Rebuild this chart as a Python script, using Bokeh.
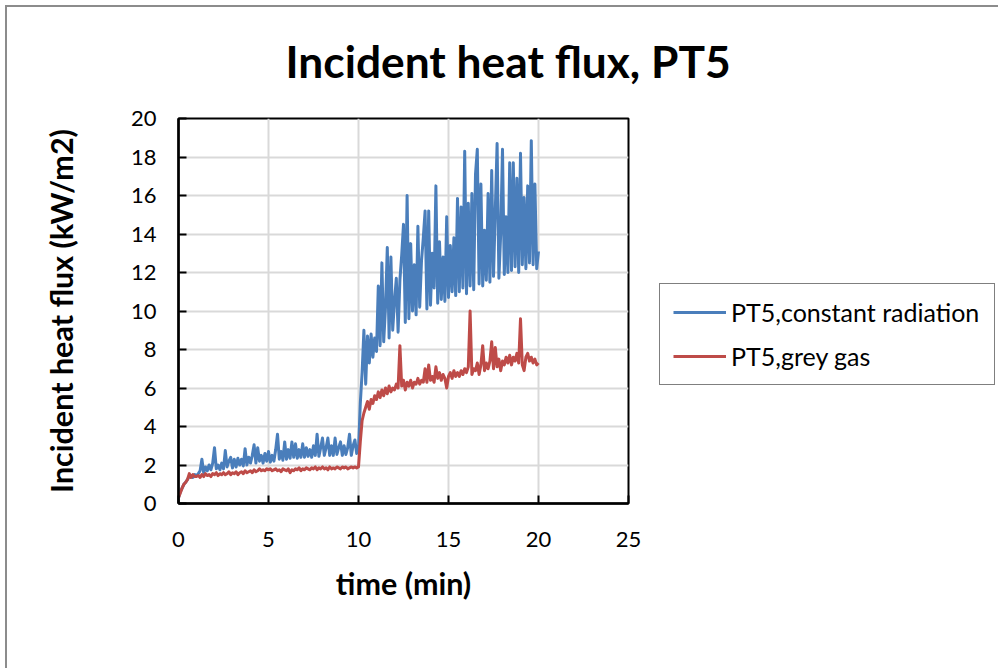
from bokeh.plotting import figure
from bokeh.models import Range1d, Legend, LegendItem, FixedTicker
from bokeh.embed import file_html
from bokeh.resources import INLINE

# ---- data ----
time_min = [round(i * 0.1, 1) for i in range(201)]

constant_radiation = [
    0.3, 0.6, 0.8, 1.0, 1.1, 1.25, 1.4, 1.45, 1.35, 1.5,
    1.45, 1.55, 1.7, 2.3, 1.6, 1.9, 1.7, 2.0, 1.75, 2.1,
    2.9, 1.8, 2.0, 1.75, 2.1, 1.8, 2.75, 1.9, 2.2, 2.4,
    1.85, 2.3, 1.9, 2.35, 2.0, 2.3, 1.95, 2.85, 2.0, 2.4,
    2.1, 2.5, 3.05, 2.1, 2.9, 2.2, 2.5, 2.1, 2.6, 2.2,
    2.7, 2.15, 2.5, 2.2, 2.8, 3.6, 2.3, 2.7, 2.25, 3.2,
    2.3, 2.8, 2.35, 3.2, 2.4, 3.1, 2.35, 2.8, 2.4, 3.1,
    2.4, 2.9, 2.45, 2.8, 2.4, 3.0, 2.5, 3.6, 2.45, 2.9,
    3.4, 2.5, 2.9, 3.4, 2.5, 3.0, 2.5, 3.4, 2.55, 2.9,
    3.2, 2.5, 3.0, 2.55, 2.9, 3.6, 2.5, 3.0, 3.3, 2.6,
    2.8, 5.2, 6.8, 9.0, 6.2, 8.7, 7.3, 8.8, 7.6, 8.6,
    7.9, 11.3, 8.2, 12.5, 8.4, 10.2, 13.3, 8.6, 12.8, 9.0,
    10.5, 11.7, 8.9, 11.6, 12.9, 14.5, 9.4, 16.0, 9.6, 13.5,
    10.0, 12.4, 9.8, 14.4, 10.2, 12.6, 13.8, 15.2, 10.1, 15.2,
    10.3, 13.0, 11.2, 16.5, 10.4, 13.6, 10.6, 12.8, 10.5, 14.9,
    10.7, 13.4, 11.0, 13.8, 10.8, 15.85, 11.0, 15.4, 11.2, 18.3,
    10.9, 15.6, 11.3, 16.1, 11.1, 17.1, 18.4, 11.4, 16.6, 11.3,
    14.2, 11.6, 16.1, 11.5, 17.3, 11.8, 15.2, 18.7, 11.7, 14.0,
    18.4, 11.9, 14.9, 12.0, 17.7, 12.1, 17.7, 12.3, 16.9, 12.0,
    18.2, 12.4, 15.9, 12.2, 16.5, 12.5, 18.85, 12.4, 16.6, 12.2,
    13.1,
]

grey_gas = [
    0.3, 0.55, 0.8, 1.0, 1.1, 1.25, 1.55, 1.35, 1.5, 1.4,
    1.4, 1.45, 1.35, 1.5, 1.4, 1.55, 1.45, 1.5, 1.4, 1.55,
    1.5, 1.6, 1.45, 1.55, 1.5, 1.6, 1.5, 1.55, 1.65, 1.5,
    1.6, 1.55, 1.65, 1.5, 1.6, 1.65, 1.55, 1.7, 1.6, 1.65,
    1.7, 1.6, 1.75, 1.65, 1.7, 1.8, 1.7, 1.75, 1.7, 1.8,
    1.75, 1.8, 1.7, 1.75, 1.8, 1.7, 1.75, 1.65, 1.8, 1.75,
    1.7, 1.8, 1.6, 1.75, 1.7, 1.8, 1.75, 1.85, 1.7, 1.8,
    1.75, 1.85, 1.8, 1.75, 1.85, 1.8, 1.9, 1.75, 1.85, 1.8,
    1.9, 1.8, 1.85, 1.75, 1.9, 1.8, 1.85, 1.8, 1.9, 1.85,
    1.8, 1.9, 1.85, 1.9, 1.8, 1.85, 1.9, 1.85, 1.9, 1.85,
    1.9, 3.2, 4.3, 4.7, 5.0, 5.3, 4.9, 5.4, 5.2, 5.6,
    5.4, 5.8, 5.5, 5.9, 5.6, 6.0, 5.7, 6.1, 5.8, 6.0,
    5.9, 6.2, 6.0, 8.2, 6.1, 6.4, 5.9, 6.3, 6.1, 6.4,
    6.0, 6.3, 6.2, 6.5, 6.2, 6.4, 6.3, 7.0, 6.3, 7.2,
    6.4, 6.6, 6.3, 7.1, 6.5, 6.8, 6.4, 6.7, 6.5, 6.0,
    6.6, 6.8, 6.5, 6.9, 6.6, 6.8, 6.6, 6.9, 6.7, 7.0,
    6.8, 7.1, 10.0, 6.7, 7.0, 6.9, 7.3, 6.7, 7.2, 8.2,
    6.9, 7.3, 7.0, 7.4, 8.4, 7.0, 8.1, 7.1, 7.5, 6.9,
    7.4, 7.2, 7.6, 7.3, 7.7, 7.2, 7.6, 7.4, 7.8, 7.3,
    9.6, 7.2, 6.9, 7.6, 7.8, 7.4, 7.6, 7.3, 7.5, 7.2,
    7.3,
]

series_names = ["PT5,constant radiation", "PT5,grey gas"]
x_ticks = [0, 5, 10, 15, 20, 25]
y_ticks = [0, 2, 4, 6, 8, 10, 12, 14, 16, 18, 20]

BLUE = "#4a7ebb"
RED = "#be4b48"
FONT = "Lato"

p = figure(
    frame_width=450, frame_height=385,
    output_backend="svg", toolbar_location=None,
    x_range=Range1d(0, 25), y_range=Range1d(0, 20),
    min_border_left=178, min_border_right=370,
    min_border_top=118, min_border_bottom=165,
)
p.styles = {
    "background-color": "white",
    "box-shadow": "inset 5px 5px 0 0 #ffffff, inset 7px 7px 0 0 #8c8c8c",
}
p.background_fill_color = "white"
p.border_fill_color = None
p.outline_line_color = "black"
p.outline_line_width = 2

r_blue = p.line(time_min, constant_radiation, line_color=BLUE, line_width=3, line_join="round")
r_red = p.line(time_min, grey_gas, line_color=RED, line_width=3, line_join="round")

for ax in (p.xaxis[0], p.yaxis[0]):
    ax.axis_line_color = "black"
    ax.axis_line_width = 2.5
    ax.major_tick_line_color = "black"
    ax.major_tick_line_width = 2
    ax.major_tick_in = 8
    ax.major_tick_out = 0
    ax.minor_tick_line_color = None
    ax.major_label_text_font = FONT
    ax.major_label_text_font_size = "22px"
    ax.major_label_text_color = "black"
    ax.axis_label_text_font = FONT
    ax.axis_label_text_font_style = "bold"
    ax.axis_label_text_font_size = "30.5px"
    ax.axis_label_text_color = "black"

p.xaxis.ticker = FixedTicker(ticks=x_ticks)
p.yaxis.ticker = FixedTicker(ticks=y_ticks)
p.xaxis.axis_label = "time (min)"
p.yaxis.axis_label = "Incident heat flux (kW/m2)"
p.xaxis.major_label_standoff = 28
p.yaxis.major_label_standoff = 22
p.xaxis.axis_label_standoff = 15
p.yaxis.axis_label_standoff = 49

p.xgrid.grid_line_color = "#d9d9d9"
p.xgrid.grid_line_width = 2
p.ygrid.grid_line_color = "#d9d9d9"
p.ygrid.grid_line_width = 2

p.title.text = "Incident heat flux, PT5"
p.title.text_font = FONT
p.title.text_font_style = "bold"
p.title.text_font_size = "44.3px"
p.title.text_color = "black"
p.title.align = "left"
p.title.offset = 107
p.title.vertical_align = "middle"
p.title.standoff = 61

legend = Legend(
    items=[LegendItem(label=series_names[0], renderers=[r_blue]),
           LegendItem(label=series_names[1], renderers=[r_red])],
    location=(31, 118),
    border_line_color="black", border_line_width=1.5,
    background_fill_color="white", background_fill_alpha=1,
    label_text_font=FONT, label_text_font_size="25px", label_text_color="black",
    glyph_width=53, glyph_height=28, label_height=28, label_width=250,
    label_standoff=5, padding=13, spacing=14, margin=0,
)
p.add_layout(legend, "right")

open("out.html", "w").write(file_html(p, INLINE))
